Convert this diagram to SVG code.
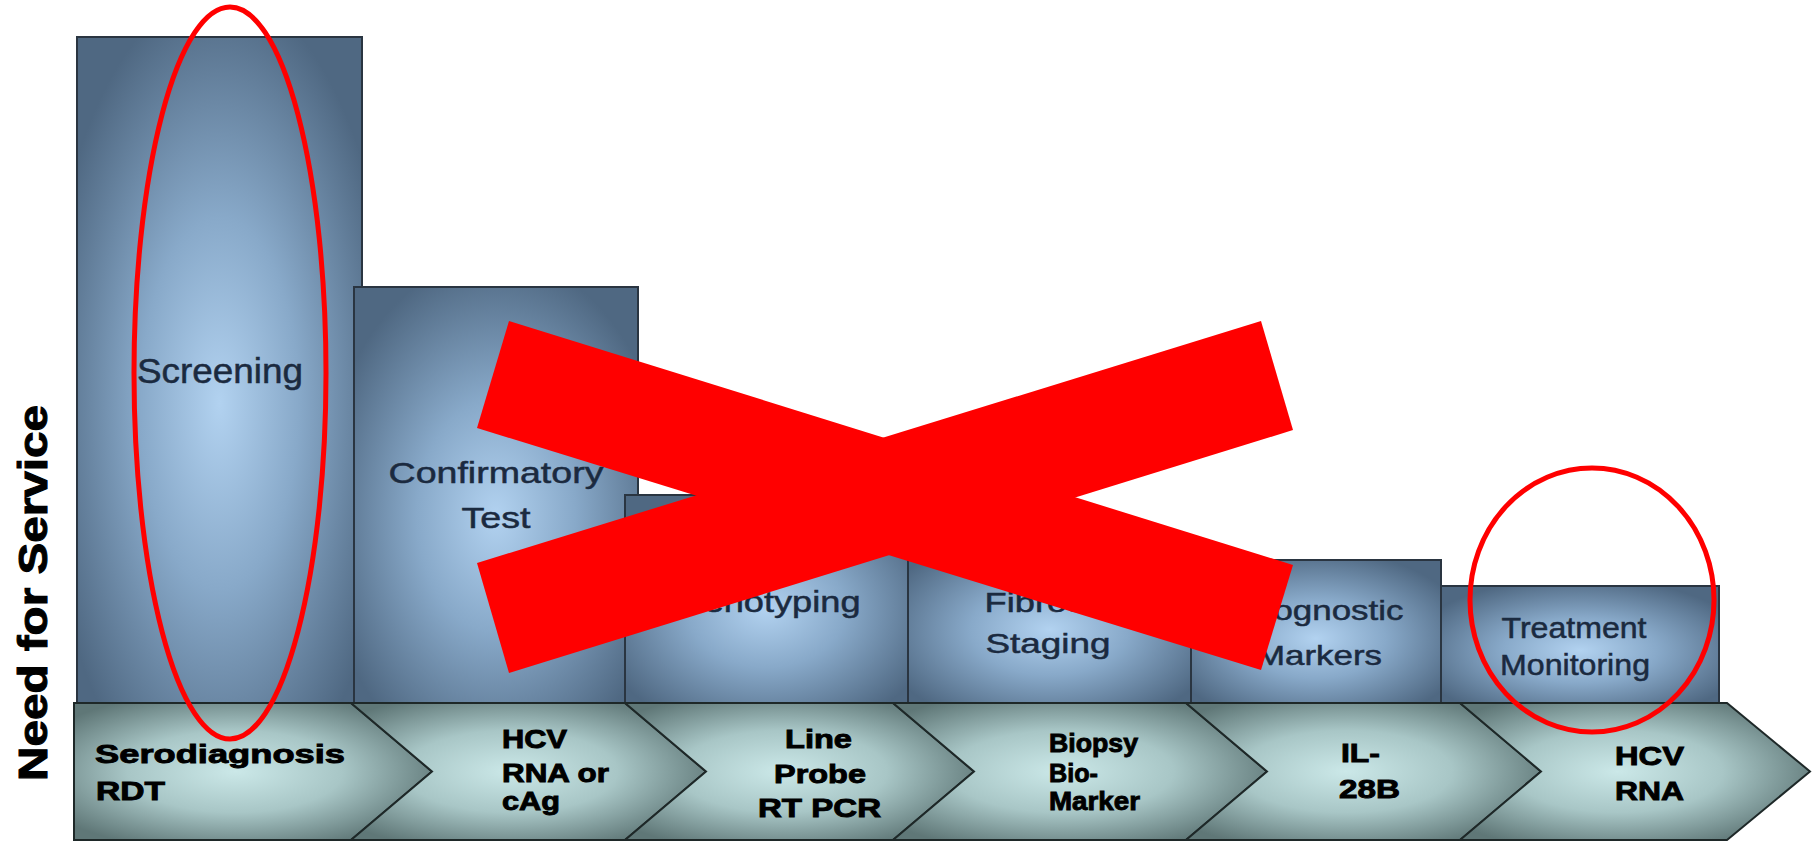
<svg xmlns="http://www.w3.org/2000/svg" width="1814" height="843" viewBox="0 0 1814 843">
<defs>
<radialGradient id="barG" cx="0.5" cy="0.55" r="0.62">
<stop offset="0" stop-color="#b2d2f0"/>
<stop offset="0.45" stop-color="#88a9c9"/>
<stop offset="1" stop-color="#4f6882"/>
</radialGradient>
<radialGradient id="chevG" cx="0.45" cy="0.5" r="0.6">
<stop offset="0" stop-color="#cbe8e8"/>
<stop offset="0.5" stop-color="#a8c6c6"/>
<stop offset="1" stop-color="#5f7777"/>
</radialGradient>
<style>
.bar{fill:url(#barG);stroke:#2a3541;stroke-width:2}
.chev{fill:url(#chevG);stroke:#1e2828;stroke-width:2;stroke-linejoin:miter}
.bt{font-family:"Liberation Sans",Arial,sans-serif;fill:#1b2a3f;stroke:#1b2a3f;stroke-width:0.5;text-anchor:middle}
.ct{font-family:"Liberation Sans",Arial,sans-serif;font-weight:bold;fill:#000;stroke:#000;stroke-width:0.9;font-size:26px}
.ring{fill:none;stroke:#ff0000;stroke-width:5}
.x{fill:#ff0000}
</style>
</defs>
<rect width="1814" height="843" fill="#ffffff"/>

<g id="bar-screening">
<rect class="bar" x="77" y="37" width="285" height="666"/>
<text class="bt" x="220" y="383" font-size="35" textLength="166" lengthAdjust="spacingAndGlyphs">Screening</text>
</g>
<g id="bar-confirmatory">
<rect class="bar" x="354" y="287" width="284" height="416"/>
<text class="bt" x="496" y="483" font-size="30" textLength="215" lengthAdjust="spacingAndGlyphs">Confirmatory</text>
<text class="bt" x="496" y="528" font-size="30" textLength="69" lengthAdjust="spacingAndGlyphs">Test</text>
</g>
<g id="bar-genotyping">
<rect class="bar" x="625" y="495" width="283" height="208"/>
<text class="bt" x="768" y="612" font-size="29" textLength="185" lengthAdjust="spacingAndGlyphs">Genotyping</text>
</g>
<g id="bar-fibrosis">
<rect class="bar" x="908" y="540" width="283" height="163"/>
<text class="bt" x="1048" y="612" font-size="28" textLength="127" lengthAdjust="spacingAndGlyphs">Fibrosis</text>
<text class="bt" x="1048" y="653" font-size="28" textLength="125" lengthAdjust="spacingAndGlyphs">Staging</text>
</g>
<g id="bar-prognostic">
<rect class="bar" x="1191" y="560" width="250" height="143"/>
<text class="bt" x="1321" y="620" font-size="28" textLength="165" lengthAdjust="spacingAndGlyphs">Prognostic</text>
<text class="bt" x="1319" y="665" font-size="28" textLength="126" lengthAdjust="spacingAndGlyphs">Markers</text>
</g>
<g id="bar-treatment">
<rect class="bar" x="1441" y="586" width="278" height="117"/>
<text class="bt" x="1574" y="638" font-size="29" textLength="145" lengthAdjust="spacingAndGlyphs">Treatment</text>
<text class="bt" x="1575" y="675" font-size="29" textLength="150" lengthAdjust="spacingAndGlyphs">Monitoring</text>
</g>

<g id="chev-1">
<polygon class="chev" points="74,703 351,703 432,771.5 351,840 74,840"/>
<text class="ct" x="95" y="763" textLength="250" lengthAdjust="spacingAndGlyphs">Serodiagnosis</text>
<text class="ct" x="96" y="800" textLength="69" lengthAdjust="spacingAndGlyphs">RDT</text>
</g>
<g id="chev-2">
<polygon class="chev" points="351,703 625,703 706,771.5 625,840 351,840 432,771.5"/>
<text class="ct" x="502" y="748" textLength="65" lengthAdjust="spacingAndGlyphs">HCV</text>
<text class="ct" x="502" y="782" textLength="107" lengthAdjust="spacingAndGlyphs">RNA or</text>
<text class="ct" x="502" y="810" textLength="58" lengthAdjust="spacingAndGlyphs">cAg</text>
</g>
<g id="chev-3">
<polygon class="chev" points="625,703 893,703 974,771.5 893,840 625,840 706,771.5"/>
<text class="ct" x="785" y="748" textLength="67" lengthAdjust="spacingAndGlyphs">Line</text>
<text class="ct" x="774" y="783" textLength="92" lengthAdjust="spacingAndGlyphs">Probe</text>
<text class="ct" x="758" y="817" textLength="123" lengthAdjust="spacingAndGlyphs">RT PCR</text>
</g>
<g id="chev-4">
<polygon class="chev" points="893,703 1186,703 1267,771.5 1186,840 893,840 974,771.5"/>
<text class="ct" x="1049" y="752" font-size="21" textLength="89" lengthAdjust="spacingAndGlyphs">Biopsy</text>
<text class="ct" x="1049" y="782" font-size="21" textLength="49" lengthAdjust="spacingAndGlyphs">Bio-</text>
<text class="ct" x="1049" y="810" font-size="21" textLength="91" lengthAdjust="spacingAndGlyphs">Marker</text>
</g>
<g id="chev-5">
<polygon class="chev" points="1186,703 1460,703 1541,771.5 1460,840 1186,840 1267,771.5"/>
<text class="ct" x="1341" y="762" textLength="39" lengthAdjust="spacingAndGlyphs">IL-</text>
<text class="ct" x="1339" y="798" textLength="61" lengthAdjust="spacingAndGlyphs">28B</text>
</g>
<g id="chev-6">
<polygon class="chev" points="1460,703 1727,703 1810,771.5 1727,840 1460,840 1541,771.5"/>
<text class="ct" x="1615" y="765" textLength="69" lengthAdjust="spacingAndGlyphs">HCV</text>
<text class="ct" x="1615" y="800" textLength="69" lengthAdjust="spacingAndGlyphs">RNA</text>
</g>

<g id="axis-label">
<text x="47" y="593" transform="rotate(-90 47 593)" font-family="'Liberation Sans',Arial,sans-serif" font-weight="bold" font-size="40" text-anchor="middle" textLength="376" lengthAdjust="spacingAndGlyphs" fill="#000" stroke="#000" stroke-width="1">Need for Service</text>
</g>

<g id="annotations">
<ellipse class="ring" cx="230" cy="373" rx="96" ry="366"/>
<ellipse class="ring" cx="1592" cy="600" rx="122" ry="132"/>
<polygon class="x" points="509,321 477,428 1261,670 1293,565"/>
<polygon class="x" points="477,563 509,673 1293,430 1261,321"/>
</g>
</svg>
